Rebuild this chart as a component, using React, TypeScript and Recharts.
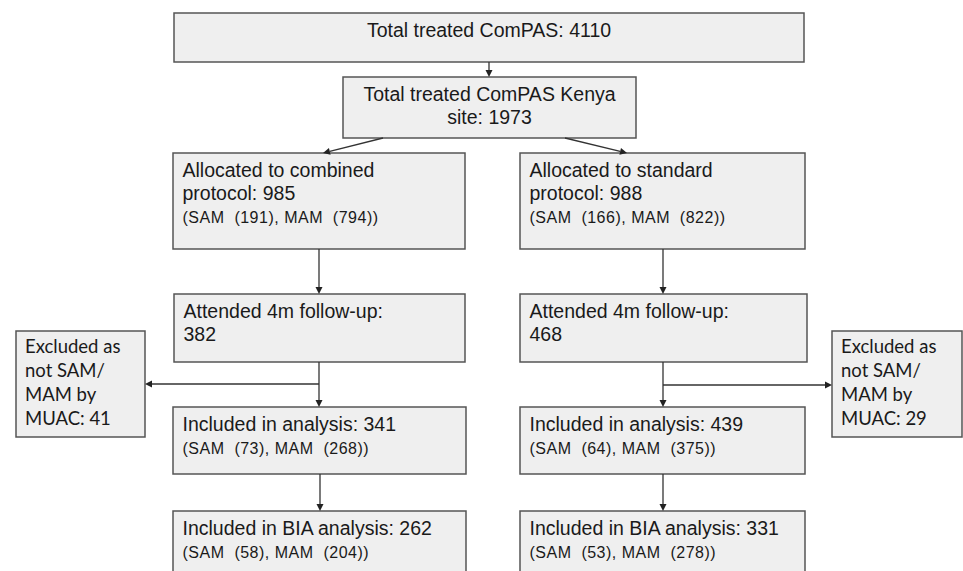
import React from 'react';
import { ComposedChart, XAxis, YAxis, ReferenceArea, ReferenceLine } from 'recharts';

// ---------- content ----------
const nodeMainLines: string[][] = [
  ['Total treated ComPAS: 4110'],
  ['Total treated ComPAS Kenya', 'site: 1973'],
  ['Allocated to combined', 'protocol: 985'],
  ['Allocated to standard', 'protocol: 988'],
  ['Attended 4m follow-up:', '382'],
  ['Attended 4m follow-up:', '468'],
  ['Excluded as', 'not SAM/', 'MAM by', 'MUAC: 41'],
  ['Excluded as', 'not SAM/', 'MAM by', 'MUAC: 29'],
  ['Included in analysis: 341'],
  ['Included in analysis: 439'],
  ['Included in BIA analysis: 262'],
  ['Included in BIA analysis: 331'],
];
const samCounts: (number | null)[] = [null, null, 191, 166, null, null, null, null, 73, 64, 58, 53];
const mamCounts: (number | null)[] = [null, null, 794, 822, null, null, null, null, 268, 375, 204, 278];

// ---------- layout of the flow diagram (chart units) ----------
const nodeX1 = [174, 343, 173, 520, 174, 520, 16, 832, 173, 520, 173, 520];
const nodeX2 = [804, 636, 465, 805, 465, 807, 145, 962, 466, 805, 466, 805];
const nodeY1 = [13, 77, 153, 153, 294, 294, 331, 331, 407, 407, 511, 511];
const nodeY2 = [62, 138, 249, 249, 362, 362, 437, 437, 474, 474, 580, 580];
const nodeKind = ['center', 'center', 'left', 'left', 'left', 'left', 'side', 'side', 'left', 'left', 'left', 'left'];

const edgeFromX = [489, 383, 565, 319, 319, 319, 320, 663, 663, 663, 663];
const edgeFromY = [62, 138, 138, 249, 362, 384, 474, 249, 362, 385, 474];
const edgeToX = [489, 323, 627, 319, 319, 145, 320, 663, 663, 832, 663];
const edgeToY = [77, 153, 153, 294, 407, 384, 511, 294, 407, 385, 511];

const W = 963;
const H = 571;
const ARIAL = '"Liberation Sans", Arial, sans-serif';
const CALIBRI = 'Lato, "Open Sans", sans-serif';

const NodeBox = (props: any) => {
  const { x, y, width, height, idx } = props;
  const kind = nodeKind[idx];
  const lines = nodeMainLines[idx];
  const sam = samCounts[idx];
  const mam = mamCounts[idx];
  const out: React.ReactNode[] = [];
  if (kind === 'center') {
    lines.forEach((t, i) => {
      out.push(
        <text key={i} x={x + width / 2} y={y + 23.5 + i * 23} textAnchor="middle" fontFamily={ARIAL} fontSize={19.5} fill="#1a1a1a">
          {t}
        </text>
      );
    });
  } else if (kind === 'left') {
    lines.forEach((t, i) => {
      out.push(
        <text key={i} x={x + 9.5} y={y + 23.5 + i * 23.5} fontFamily={ARIAL} fontSize={19.5} fill="#1a1a1a">
          {t}
        </text>
      );
    });
    if (sam !== null && mam !== null) {
      out.push(
        <text key="sub" x={x + 9.5} y={y + 23.5 + lines.length * 23.5 - 0.5} fontFamily={ARIAL} fontSize={16} letterSpacing={0.5} fill="#1a1a1a" style={{ whiteSpace: 'pre' }}>
          {`(SAM  (${sam}), MAM  (${mam}))`}
        </text>
      );
    }
  } else {
    lines.forEach((t, i) => {
      out.push(
        <text key={i} x={x + 9} y={y + 22 + i * 24} fontFamily={CALIBRI} fontSize={18.5} fill="#1a1a1a">
          {t}
        </text>
      );
    });
  }
  return (
    <g>
      <rect x={x} y={y} width={width} height={height} fill="#efefef" stroke="#555555" strokeWidth={1.5} />
      {out}
    </g>
  );
};

const Arrow = (props: any) => {
  const { x1, y1, x2, y2 } = props;
  const dx = x2 - x1;
  const dy = y2 - y1;
  const len = Math.sqrt(dx * dx + dy * dy) || 1;
  const ux = dx / len;
  const uy = dy / len;
  const hl = 7;
  const hw = 3.5;
  const bx = x2 - ux * hl;
  const by = y2 - uy * hl;
  const pts = `${x2},${y2} ${bx - uy * hw},${by + ux * hw} ${bx + uy * hw},${by - ux * hw}`;
  return (
    <g>
      <line x1={x1} y1={y1} x2={bx} y2={by} stroke="#333333" strokeWidth={1.3} />
      <polygon points={pts} fill="#222222" />
    </g>
  );
};

export default function App() {
  return (
    <div style={{ position: 'absolute', left: 0, top: 0, width: W, height: H, background: '#ffffff' }}>
      <ComposedChart width={W} height={H} data={[]} margin={{ top: 0, right: 0, bottom: 0, left: 0 }}>
        <XAxis type="number" dataKey="x" domain={[0, W]} hide allowDataOverflow />
        <YAxis type="number" dataKey="y" domain={[0, H]} hide reversed allowDataOverflow width={0} />
        {nodeMainLines.map((_, i) => (
          <ReferenceArea
            key={`n${i}`}
            x1={nodeX1[i]}
            x2={nodeX2[i]}
            y1={nodeY1[i]}
            y2={nodeY2[i]}
            ifOverflow="visible"
            shape={(p: any) => <NodeBox {...p} idx={i} />}
          />
        ))}
        {edgeFromX.map((_, i) => (
          <ReferenceLine
            key={`e${i}`}
            segment={[
              { x: edgeFromX[i], y: edgeFromY[i] },
              { x: edgeToX[i], y: edgeToY[i] },
            ]}
            ifOverflow="visible"
            shape={(p: any) => <Arrow {...p} />}
          />
        ))}
      </ComposedChart>
    </div>
  );
}
